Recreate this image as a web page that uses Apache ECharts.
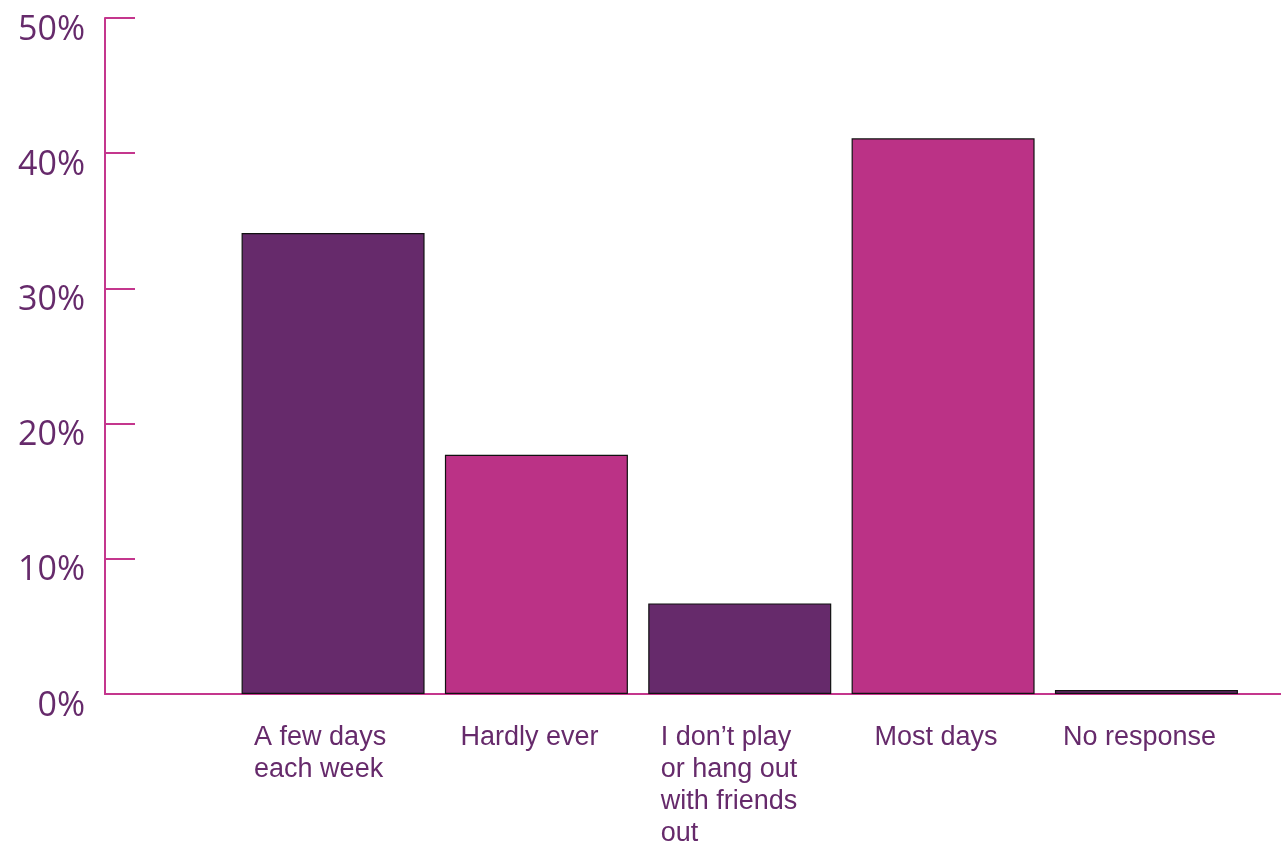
<!DOCTYPE html>
<html>
<head>
<meta charset="utf-8">
<script src="https://cdn.jsdelivr.net/npm/echarts@6/dist/echarts.min.js"></script>
<style>
html,body{margin:0;padding:0;background:#fff;}
#chart{width:1281px;height:846px;}
</style>
</head>
<body>
<div id="chart"></div>
<script>
const categories = ['A few days\neach week', 'Hardly ever', 'I don\u2019t play\nor hang out\nwith friends\nout', 'Most days', 'No response'];
const values = [34.1, 17.7, 6.7, 41.1, 0.3];
const barColors = ['#662A6B', '#BB3286', '#662A6B', '#BB3286', '#662A6B'];
const yMin = 0, yMax = 50, yStep = 10;

const axisColor = '#C4368D';
const textColor = '#662A6B';
const xFont = 'Liberation Sans, Arial, sans-serif';

const chart = echarts.init(document.getElementById('chart'), null, {renderer: 'canvas'});
chart.setOption({
  animation: false,
  backgroundColor: '#fff',
  grid: [
    {left: 105, right: 0, top: 18, bottom: 152, containLabel: false, outerBoundsMode: 'none'},
    {left: 231.4, right: 32.9, top: 18, bottom: 152, containLabel: false, outerBoundsMode: 'none'}
  ],
  xAxis: [
    {type: 'value', gridIndex: 0, min: 0, max: 1,
     axisLine: {show: true, lineStyle: {color: axisColor, width: 2}},
     axisTick: {show: false}, axisLabel: {show: false}, splitLine: {show: false}},
    {type: 'category', gridIndex: 1, data: categories,
     axisLine: {show: false}, axisTick: {show: false}, splitLine: {show: false},
     axisLabel: {
       interval: 0, margin: 28, color: textColor, fontSize: 27,
       fontFamily: xFont, lineHeight: 32,
       align: 'center', padding: [0, 14, 0, 0],
       formatter: function (v) {
         const lines = v.split('\n');
         if (lines.length > 1) return lines.map(l => '{w|' + l + '}').join('\n');
         return v;
       },
       rich: {
         w: {width: 144, align: 'left', fontSize: 27, lineHeight: 32, color: textColor,
             fontFamily: xFont}
       }
     }}
  ],
  yAxis: [
    {type: 'value', gridIndex: 0, min: yMin, max: yMax, interval: yStep,
     axisLine: {show: true, lineStyle: {color: axisColor, width: 2}},
     axisTick: {show: true, inside: true, length: 30, lineStyle: {color: axisColor, width: 2}},
     splitLine: {show: false},
     axisLabel: {formatter: '{value}%', color: textColor, fontSize: 34,
                 fontFamily: 'Open Sans, sans-serif', margin: 20,
                 verticalAlign: 'top', lineHeight: 24}},
    {type: 'value', gridIndex: 1, min: yMin, max: yMax, interval: yStep, show: false,
     splitLine: {show: false}}
  ],
  series: [{
    type: 'bar', xAxisIndex: 1, yAxisIndex: 1,
    barCategoryGap: '10%',
    data: values.map((v, i) => ({value: v, itemStyle: {color: barColors[i]}})),
    itemStyle: {borderColor: '#111', borderWidth: 1.2},
    z: 3
  }]
});
</script>
</body>
</html>
